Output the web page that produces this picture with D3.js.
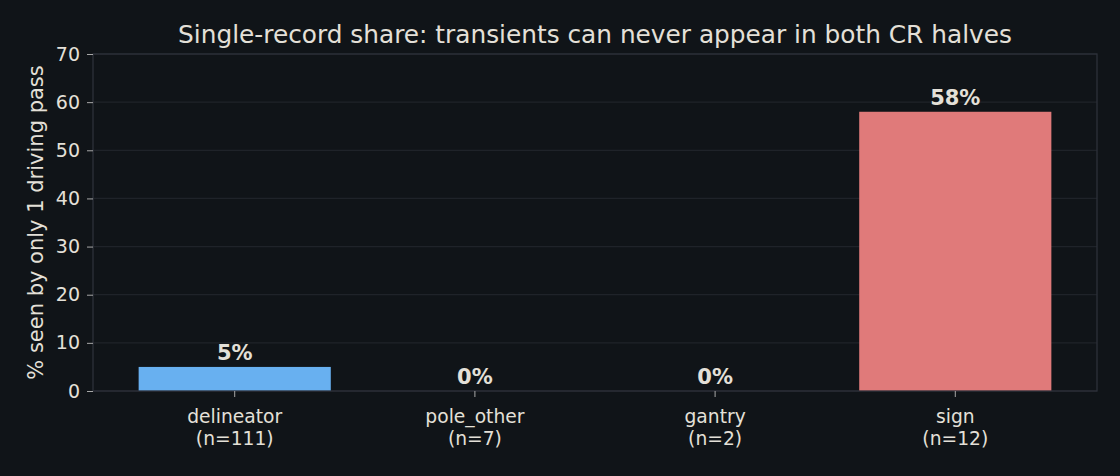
<!DOCTYPE html>
<html><head><meta charset="utf-8">
<script src="https://cdn.jsdelivr.net/npm/d3@7"></script>
<style>
html,body{margin:0;padding:0;background:#101418;}
svg{display:block;font-family:"DejaVu Sans",sans-serif;}
</style></head>
<body><svg id="chart" width="1120" height="476"></svg>
<script>
const categories = ["delineator","pole_other","gantry","sign"];
const counts = [111,7,2,12];
const values = [5,0,0,58];
const barColors = ["#68b0f0","#68b0f0","#68b0f0","#e07a7a"];
const yTicks = [0,10,20,30,40,50,60,70];
const title = "Single-record share: transients can never appear in both CR halves";
const yLabel = "% seen by only 1 driving pass";

const W=1120,H=476;
const m={left:93,right:1120-1097,top:54,bottom:476-391};
const svg=d3.select("#chart");
svg.append("rect").attr("width",W).attr("height",H).attr("fill","#101418");
const textColor="#e4e0d8";

const x=d3.scaleBand().domain(categories).range([m.left,W-m.right]).paddingInner(0.2).paddingOuter(0.19);
const y=d3.scaleLinear().domain([0,70]).range([H-m.bottom,m.top]);

// gridlines
svg.append("g").selectAll("line").data(yTicks).join("line")
  .attr("x1",m.left).attr("x2",W-m.right)
  .attr("y1",d=>y(d)).attr("y2",d=>y(d))
  .attr("stroke","#1f2329").attr("stroke-width",1.2);

// bars
svg.append("g").selectAll("rect").data(categories).join("rect")
  .attr("x",d=>x(d)).attr("width",x.bandwidth())
  .attr("y",(d,i)=>y(values[i])).attr("height",(d,i)=>y(0)-y(values[i]))
  .attr("fill",(d,i)=>barColors[i]);

// frame
svg.append("rect").attr("x",m.left).attr("y",m.top)
  .attr("width",W-m.right-m.left).attr("height",H-m.bottom-m.top)
  .attr("fill","none").attr("stroke","#2d3139").attr("stroke-width",1.3);

// y axis
const yAxis=svg.append("g").attr("transform",`translate(${m.left},0)`)
  .call(d3.axisLeft(y).tickValues(yTicks).tickSize(6).tickPadding(7).tickFormat(d3.format("d")));
yAxis.select(".domain").remove();
yAxis.selectAll("line").attr("stroke","#a8a8a8");
yAxis.selectAll("text").attr("fill",textColor).attr("font-size","19px").attr("font-family","DejaVu Sans");

// x axis
const xAxis=svg.append("g").attr("transform",`translate(0,${H-m.bottom})`)
  .call(d3.axisBottom(x).tickSize(6).tickPadding(5).tickFormat(""));
xAxis.select(".domain").remove();
xAxis.selectAll("line").attr("stroke","#a8a8a8");
xAxis.selectAll(".tick").each(function(d,i){
  const t=d3.select(this).append("text").attr("fill",textColor).attr("font-size","18.7px")
    .attr("text-anchor","middle").attr("font-family","DejaVu Sans");
  t.append("tspan").attr("x",0).attr("y",32).text(d);
  t.append("tspan").attr("x",0).attr("y",54).text(`(n=${counts[i]})`);
});

// value labels
svg.append("g").selectAll("text").data(categories).join("text")
  .attr("x",d=>x(d)+x.bandwidth()/2)
  .attr("y",(d,i)=>y(values[i])-7)
  .attr("text-anchor","middle").attr("fill",textColor)
  .attr("font-size","21px").attr("font-weight","bold")
  .text((d,i)=>values[i]+"%");

// title
svg.append("text").attr("x",(m.left+W-m.right)/2).attr("y",43)
  .attr("text-anchor","middle").attr("fill",textColor).attr("font-size","24.8px")
  .text(title);

// y label
svg.append("text").attr("transform",`translate(43,${(m.top+H-m.bottom)/2}) rotate(-90)`)
  .attr("text-anchor","middle").attr("fill",textColor).attr("font-size","21px")
  .text(yLabel);
</script></body></html>
